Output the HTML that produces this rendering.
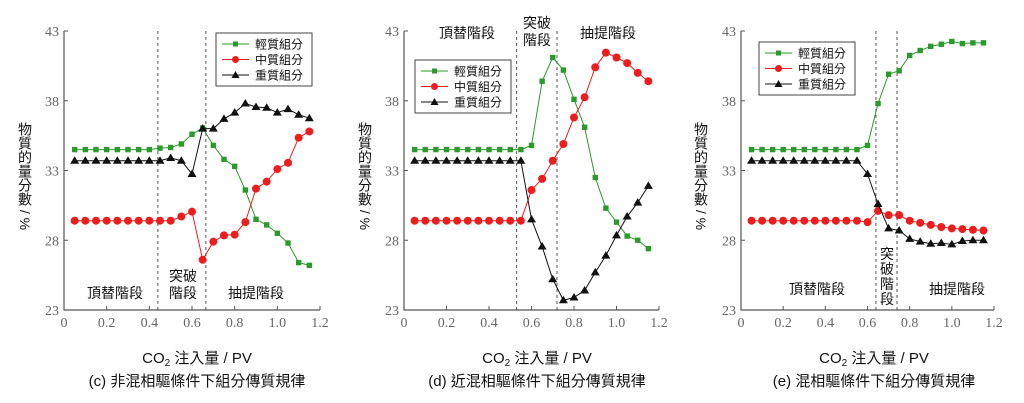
<!DOCTYPE html>
<html><head><meta charset="utf-8"><style>
body{margin:0;background:#fff;width:1024px;height:403px;overflow:hidden}
svg{display:block}
.tk{font-family:"Liberation Serif","DejaVu Serif",serif;font-size:14px;fill:#666}
.cj{font-family:"Liberation Sans","Noto Sans CJK TC",sans-serif;fill:#111}
</style></head><body>
<svg id="chart" width="1024" height="403"></svg>
<script>
const xCats=[0.05,0.1,0.15,0.2,0.25,0.3,0.35,0.4,0.45,0.5,0.55,0.6,0.65,0.7,0.75,0.8,0.85,0.9,0.95,1.0,1.05,1.1,1.15];
const xTicks=["0","0.2","0.4","0.6","0.8","1.0","1.2"];
const yTicks=[23,28,33,38,43];
const cLight=[34.5,34.5,34.5,34.5,34.5,34.5,34.5,34.5,34.6,34.65,34.9,35.6,36.05,34.8,33.8,33.3,31.6,29.5,29.1,28.5,27.8,26.4,26.2];
const cMid=[29.4,29.4,29.4,29.4,29.4,29.4,29.4,29.4,29.4,29.4,29.7,30.05,26.6,27.9,28.35,28.4,29.3,31.7,32.2,33.1,33.55,35.35,35.8];
const cHeavy=[33.7,33.7,33.7,33.7,33.7,33.7,33.7,33.7,33.7,33.9,33.7,32.75,36.0,36.0,36.7,37.15,37.8,37.55,37.5,37.15,37.4,37.0,36.75];
const dLight=[34.5,34.5,34.5,34.5,34.5,34.5,34.5,34.5,34.5,34.5,34.5,34.8,39.4,41.1,40.2,38.1,36.1,32.5,30.3,29.3,28.3,28.0,27.4];
const dMid=[29.4,29.4,29.4,29.4,29.4,29.4,29.4,29.4,29.4,29.4,29.4,31.6,32.4,33.7,34.9,36.8,38.25,40.4,41.45,41.1,40.7,40.0,39.4];
const dHeavy=[33.7,33.7,33.7,33.7,33.7,33.7,33.7,33.7,33.7,33.7,33.7,29.5,27.55,25.2,23.7,23.9,24.4,25.7,26.9,28.35,29.7,30.7,31.9];
const eLight=[34.5,34.5,34.5,34.5,34.5,34.5,34.5,34.5,34.5,34.5,34.5,34.8,37.8,39.9,40.15,41.25,41.6,41.9,42.05,42.25,42.1,42.15,42.15];
const eMid=[29.4,29.4,29.4,29.4,29.4,29.4,29.4,29.4,29.4,29.4,29.4,29.3,30.1,29.8,29.8,29.4,29.25,29.1,28.95,28.85,28.8,28.75,28.7];
const eHeavy=[33.7,33.7,33.7,33.7,33.7,33.7,33.7,33.7,33.7,33.7,33.7,32.75,30.6,28.85,28.7,28.1,27.9,27.75,27.8,27.7,27.95,28.0,28.0];
const cDash=[0.44,0.665], dDash=[0.53,0.72], eDash=[0.64,0.74];
const legendNames=["輕質組分","中質組分","重質組分"];

const NS="http://www.w3.org/2000/svg";
const svg=document.getElementById('chart');
function mk(tag,attrs,parent,text){const e=document.createElementNS(NS,tag);for(const k in attrs)e.setAttribute(k,attrs[k]);if(text!==undefined)e.textContent=text;(parent||svg).appendChild(e);return e;}

const panels=[
 {id:'c',x0:64,x1:320,series:[cLight,cMid,cHeavy],dash:cDash,leg:[216,33],ytx:25,cx:197,cap:"(c) 非混相驅條件下組分傳質規律",
  stages:[["頂替階段",115,298],["突破",183,281],["階段",183,298],["抽提階段",256,298]]},
 {id:'d',x0:404,x1:659,series:[dLight,dMid,dHeavy],dash:dDash,leg:[415,60],ytx:365,cx:537,cap:"(d) 近混相驅條件下組分傳質規律",
  stages:[["頂替階段",467,38],["突破",537,28],["階段",537,45],["抽提階段",608,38]]},
 {id:'e',x0:741,x1:994,series:[eLight,eMid,eHeavy],dash:eDash,leg:[759,42],ytx:701,cx:874,cap:"(e) 混相驅條件下組分傳質規律",
  stages:[["頂替階段",817,294],["突",887,259],["破",887,274],["階",887,289],["段",887,304],["抽提階段",957,294]]}
];
const colors=["#2a9a2a","#ee1c1c","#111"];
const yTop=31,yBot=310;
panels.forEach(p=>{
  const g=mk('g',{});
  
  
  const X=v=>p.x0+(p.x1-p.x0)*v/1.2;
  const Y=v=>yBot-(yBot-yTop)*(v-23)/20;
  const ax=mk('path',{d:`M${p.x0},${yTop}V${yBot}H${p.x1}`,stroke:'#555',fill:'none','stroke-width':1.2},g);
  
  
  yTicks.forEach(t=>{
    mk('line',{x1:p.x0,x2:p.x0+4,y1:Y(t),y2:Y(t),stroke:'#555'},g);
    const tl=mk('text',{x:p.x0-5,y:Y(t)+5,'text-anchor':'end',class:'tk','font-family':'Liberation Serif, serif'},g,String(t));
    
    
  });
  xTicks.forEach(t=>{
    const xv=X(parseFloat(t));
    mk('line',{x1:xv,x2:xv,y1:yBot,y2:yBot-4,stroke:'#555'},g);
    const tl=mk('text',{x:xv,y:yBot+17,'text-anchor':'middle',class:'tk','font-family':'Liberation Serif, serif'},g,t);
    
    
  });
  p.dash.forEach(d=>{
    const l=mk('line',{x1:X(d),x2:X(d),y1:yTop,y2:yBot,stroke:'#555','stroke-dasharray':'3,3'},g);
    
    
  });
  p.stages.forEach(s=>{
    const t=mk('text',{x:s[1],y:s[2],'text-anchor':'middle',class:'cj','font-size':14},g,s[0]);
    
    
  });
  p.series.forEach((vals,si)=>{
    const pts=vals.map((v,i)=>X(xCats[i])+','+Y(v)).join(' ');
    const pl=mk('polyline',{points:pts,fill:'none',stroke:colors[si],'stroke-width':1},g);
    
    
    vals.forEach((v,i)=>{
      const x=X(xCats[i]),y=Y(v);let m;
      if(si===0)m=mk('rect',{x:x-2.7,y:y-2.7,width:5.4,height:5.4,fill:colors[0]},g);
      else if(si===1)m=mk('circle',{cx:x,cy:y,r:4,fill:colors[1]},g);
      else m=mk('path',{d:`M${x},${y-4.5}L${x+4.5},${y+3}L${x-4.5},${y+3}Z`,fill:'#111'},g);
      
      
    });
  });
  const [lx,ly]=p.leg;
  const lg=mk('g',{},g);
  
  
  mk('rect',{x:lx,y:ly,width:96,height:53,fill:'#fff',stroke:'#444','stroke-width':1},lg);
  legendNames.forEach((n,i)=>{
    const yy=ly+11+i*15.5;
    mk('line',{x1:lx+6,x2:lx+33,y1:yy,y2:yy,stroke:colors[i]},lg);
    if(i===0)mk('rect',{x:lx+17,y:yy-2.5,width:5,height:5,fill:colors[0]},lg);
    else if(i===1)mk('circle',{cx:lx+19.5,cy:yy,r:3.5,fill:colors[1]},lg);
    else mk('path',{d:`M${lx+19.5},${yy-4}L${lx+23.5},${yy+3}L${lx+15.5},${yy+3}Z`,fill:'#111'},lg);
    const t=mk('text',{x:lx+39,y:yy+4.5,class:'cj','font-size':12},lg,n);
    
    
  });
  const yt=mk('text',{x:p.ytx,y:122,class:'cj','font-size':14,style:'writing-mode:vertical-rl'},g,"物質的量分數 / %");
  
  
  const xt=mk('text',{x:p.cx,y:363,'text-anchor':'middle',class:'cj','font-size':15},g);
  
  
  xt.innerHTML='CO<tspan font-size="10" dy="3">2</tspan><tspan dy="-3"> 注入量 / PV</tspan>';
  const cp=mk('text',{x:p.cx,y:386,'text-anchor':'middle',class:'cj','font-size':15},g,p.cap);
  
  
});
</script>
</body></html>
